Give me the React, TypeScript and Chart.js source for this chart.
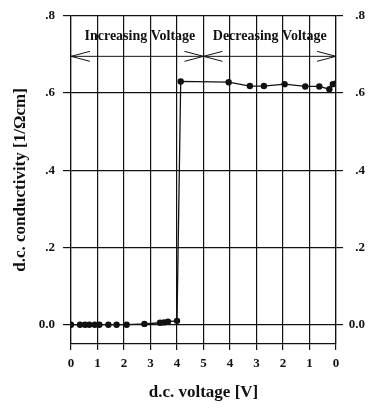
import React, { useEffect, useRef } from "react";
import { Chart, registerables } from "chart.js";

Chart.register(...registerables);

// Axis positions 0..10 along the sweep; labels show the voltage going up then down
const xTickPositions = [0, 1, 2, 3, 4, 5, 6, 7, 8, 9, 10];
const xTickLabels = ["0", "1", "2", "3", "4", "5", "4", "3", "2", "1", "0"];
const yTickValues = [0, 0.2, 0.4, 0.6, 0.8];
const yTickLabels = ["0.0", ".2", ".4", ".6", ".8"];

// Increasing voltage sweep (V, conductivity 1/Ωcm)
const incVoltage = [0, 0.34, 0.53, 0.69, 0.9, 1.07, 1.41, 1.72, 2.1, 2.77, 3.36, 3.51, 3.66, 4.0, 4.14];
const incCond = [0, 0, 0, 0, 0, 0, 0, 0, 0, 0.002, 0.005, 0.006, 0.008, 0.01, 0.63];

// Decreasing voltage sweep
const decVoltage = [4.05, 3.25, 2.72, 1.94, 1.16, 0.63, 0.25, 0.12, 0.0];
const decCond = [0.628, 0.618, 0.618, 0.623, 0.617, 0.617, 0.61, 0.623, 0.625];

const sweepMax = 5;

const annotations = [
  { text: "Increasing Voltage", from: 0, to: 5, textX: 2.6 },
  { text: "Decreasing Voltage", from: 5, to: 10, textX: 7.5 },
];
const arrowY = 0.695;
const textY = 0.746;

const FONT = "'Liberation Serif', 'Times New Roman', serif";

export default function App() {
  const ref = useRef<HTMLCanvasElement>(null);

  useEffect(() => {
    if (!ref.current) return;
    const points = [
      ...incVoltage.map((v, i) => ({ x: v, y: incCond[i] })),
      ...decVoltage.map((v, i) => ({ x: 2 * sweepMax - v, y: decCond[i] })),
    ];

    const annoPlugin = {
      id: "anno",
      afterDatasetsDraw(chart: any) {
        const { ctx, scales } = chart;
        const xs = scales.x;
        const ys = scales.y;
        ctx.save();
        ctx.strokeStyle = "#111";
        ctx.fillStyle = "#111";
        ctx.lineWidth = 1;
        const ay = ys.getPixelForValue(arrowY);
        for (const a of annotations) {
          const x1 = xs.getPixelForValue(a.from);
          const x2 = xs.getPixelForValue(a.to);
          ctx.beginPath();
          ctx.moveTo(x1, ay);
          ctx.lineTo(x2, ay);
          ctx.moveTo(x1 + 19, ay - 5);
          ctx.lineTo(x1, ay);
          ctx.lineTo(x1 + 19, ay + 5);
          ctx.moveTo(x2 - 19, ay - 5);
          ctx.lineTo(x2, ay);
          ctx.lineTo(x2 - 19, ay + 5);
          ctx.stroke();
          ctx.font = `bold 14px ${FONT}`;
          ctx.textAlign = "center";
          ctx.textBaseline = "middle";
          ctx.fillText(a.text, xs.getPixelForValue(a.textX), ys.getPixelForValue(textY));
        }
        ctx.restore();
      },
    };

    const tickFont = { family: FONT, size: 13, weight: "bold" as const };
    const titleFont = { family: FONT, size: 17, weight: "bold" as const };

    const chart = new Chart(ref.current, {
      type: "scatter",
      data: {
        datasets: [
          {
            data: points,
            showLine: true,
            borderColor: "#111",
            backgroundColor: "#111",
            borderWidth: 1.3,
            pointRadius: 3.2,
            pointHoverRadius: 3.2,
            pointBorderWidth: 0,
          },
        ],
      },
      options: {
        responsive: false,
        animation: false,
        events: [],
        layout: { padding: { top: 14, right: 7, left: 0, bottom: 0 } },
        plugins: { legend: { display: false }, tooltip: { enabled: false } },
        scales: {
          x: {
            type: "linear",
            min: 0,
            max: 10,
            afterBuildTicks: (s: any) => {
              s.ticks = xTickPositions.map((v) => ({ value: v }));
            },
            afterFit: (s: any) => {
              s.height = 65;
            },
            ticks: {
              color: "#111",
              font: tickFont,
              padding: 6,
              autoSkip: false,
              maxRotation: 0,
              callback: (v: any) => xTickLabels[xTickPositions.indexOf(Number(v))] ?? "",
            },
            grid: { color: "#111", lineWidth: 1.2, tickLength: 6 },
            border: { color: "#111", width: 1.2 },
            title: {
              display: true,
              text: "d.c. voltage [V]",
              color: "#111",
              font: titleFont,
              padding: { top: 0, bottom: 6 },
            },
          },
          y: {
            type: "linear",
            position: "left",
            min: -0.05,
            max: 0.8,
            afterBuildTicks: (s: any) => {
              s.ticks = yTickValues.map((v) => ({ value: v }));
            },
            afterFit: (s: any) => {
              s.width = 71;
            },
            ticks: {
              color: "#111",
              font: tickFont,
              padding: 8,
              callback: (v: any) => yTickLabels[yTickValues.indexOf(Number(v))] ?? "",
            },
            grid: { color: "#111", lineWidth: 1.2, tickLength: 8 },
            border: { color: "#111", width: 1.2 },
            title: {
              display: true,
              text: "d.c. conductivity [1/Ωcm]",
              color: "#111",
              font: titleFont,
              padding: { top: 10, bottom: 0 },
            },
          },
          y2: {
            type: "linear",
            position: "right",
            min: -0.05,
            max: 0.8,
            afterBuildTicks: (s: any) => {
              s.ticks = yTickValues.map((v) => ({ value: v }));
            },
            afterFit: (s: any) => {
              s.width = 29;
            },
            ticks: {
              color: "#111",
              font: tickFont,
              crossAlign: "far",
              callback: (v: any) => yTickLabels[yTickValues.indexOf(Number(v))] ?? "",
            },
            grid: { color: "#111", lineWidth: 1.2, tickLength: 7, drawOnChartArea: false },
            border: { color: "#111", width: 1.2 },
          },
        },
      },
      plugins: [annoPlugin],
    });
    return () => chart.destroy();
  }, []);

  return (
    <div style={{ position: "fixed", left: 0, top: 0, width: 372, height: 409, background: "#fff" }}>
      <canvas ref={ref} width={372} height={409} style={{ width: 372, height: 409, display: "block" }} />
    </div>
  );
}
